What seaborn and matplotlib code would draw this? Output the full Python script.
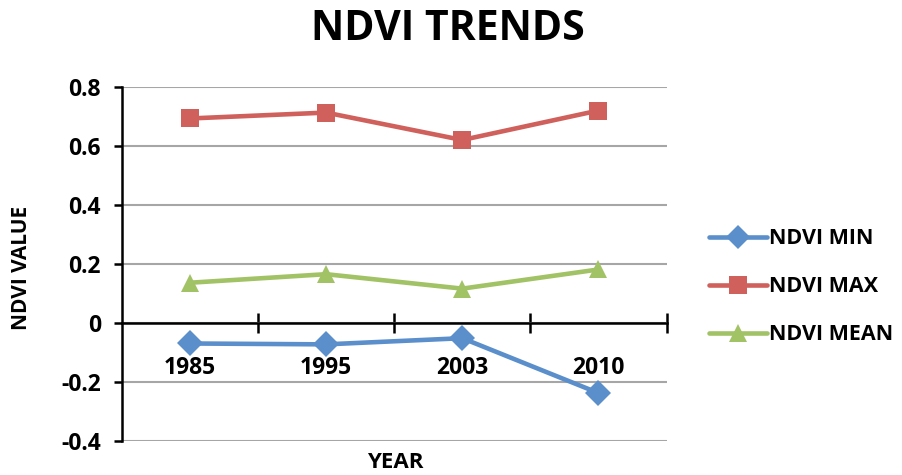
import numpy as np
import pandas as pd
import matplotlib
matplotlib.use("Agg")
import matplotlib.pyplot as plt
import seaborn as sns

# data
years = ["1985", "1995", "2003", "2010"]
ndvi_min = [-0.070, -0.073, -0.052, -0.238]
ndvi_max = [0.693, 0.713, 0.620, 0.720]
ndvi_mean = [0.136, 0.165, 0.116, 0.181]
series_names = ["NDVI MIN", "NDVI MAX", "NDVI MEAN"]

sns.set_style("white")
plt.rcParams['font.family'] = ['Open Sans', 'DejaVu Sans']
plt.rcParams['font.weight'] = 'bold'
for k in ["text.color", "axes.labelcolor", "xtick.color", "ytick.color"]:
    plt.rcParams[k] = "black"

rows = []
for name, vals in zip(series_names, [ndvi_min, ndvi_max, ndvi_mean]):
    for i, v in enumerate(vals):
        rows.append({"pos": i, "year": years[i], "value": v, "series": name})
df = pd.DataFrame(rows)

palette = {"NDVI MIN": "#5B8FCB", "NDVI MAX": "#CF605B", "NDVI MEAN": "#A2C266"}
markers = {"NDVI MIN": "D", "NDVI MAX": "s", "NDVI MEAN": "^"}

fig = plt.figure(figsize=(9.02, 4.75), dpi=100)
ax = fig.add_axes([0.135, 0.072, 0.604, 0.745])

ax.set_xlim(-0.5, 3.5)
ax.set_ylim(-0.4, 0.8)
ax.set_yticks(np.arange(-0.4, 0.81, 0.2))
ax.yaxis.grid(True, color="#A6A6A6", linewidth=1.5)
ax.set_axisbelow(True)

sns.lineplot(data=df, x="pos", y="value", hue="series", style="series",
             palette=palette, markers=markers, dashes=False,
             linewidth=3.3, markersize=13.5, markeredgewidth=0,
             ax=ax, legend=True, zorder=3)

# spines
for s in ["top", "right"]:
    ax.spines[s].set_visible(False)
ax.spines["left"].set_color("black")
ax.spines["left"].set_linewidth(1.8)
ax.spines["bottom"].set_position(("data", 0))
ax.spines["bottom"].set_color("black")
ax.spines["bottom"].set_linewidth(1.8)

# x axis: boundary ticks crossing the zero line, labels under each point
ax.set_xticks([0.5, 1.5, 2.5, 3.5])
ax.set_xticklabels([])
ax.tick_params(axis="x", which="major", direction="inout", length=15, width=1.8,
               color="black", bottom=True)
ax.set_xticks(range(len(years)), minor=True)
ax.set_xticklabels(years, minor=True, fontsize=16.5, fontweight="bold")
ax.tick_params(axis="x", which="minor", length=0, pad=24, bottom=True)

ax.set_yticklabels(["-0.4", "-0.2", "0", "0.2", "0.4", "0.6", "0.8"], fontsize=16.5, fontweight="bold")
ax.tick_params(axis="y", which="major", direction="out", length=6, width=1.8,
               color="black", left=True, pad=9)
ax.set_xlabel("")
ax.set_ylabel("")

# legend
handles, labels = ax.get_legend_handles_labels()
for h in handles:
    h.set_linewidth(3.3)
    h.set_markersize(12.5)
ax.legend(handles, labels, loc="center left", bbox_to_anchor=(0.764, 0.396),
          bbox_transform=fig.transFigure, frameon=False,
          handlelength=2.7, handletextpad=0.12, labelspacing=1.25,
          prop={"weight": "bold", "size": 15.5})

fig.text(0.496, 0.937, "NDVI TRENDS", ha="center", va="center", fontsize=29.5, fontweight="bold")
fig.text(0.024, 0.436, "NDVI VALUE", ha="center", va="center", rotation=90, fontsize=15, fontweight="bold")
fig.text(0.438, 0.026, "YEAR", ha="center", va="center", fontsize=16, fontweight="bold")

fig.savefig("out.png", dpi=100)
